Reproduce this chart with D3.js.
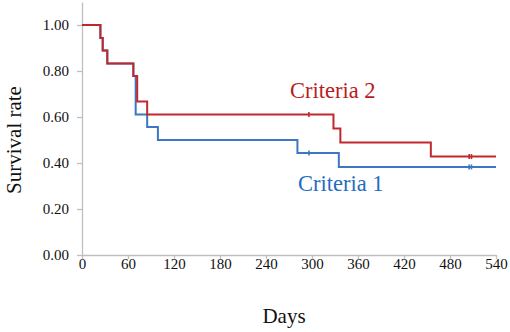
<!DOCTYPE html>
<html lang="en">
<head>
    <meta charset="UTF-8" />
    <title>Survival rate by criteria</title>
    <script src="https://d3js.org/d3.v7.min.js"></script>
    <style>
        body {
            margin: 0;
            background: #fff;
        }

        .axis path,
        .axis line {
            stroke: #bfbfbf;
            stroke-width: 1.3;
        }

        .curve {
            fill: none;
            stroke-width: 2;
        }
    </style>
</head>

<body>
    <div id="chart"></div>

    <script>
        // step times (days) and survival after each step
        var c1Days = [0, 24, 27, 33, 67, 70, 85, 99, 281, 335, 540];
        var c1Rate = [1.00, 0.944, 0.889, 0.833, 0.778, 0.611, 0.556, 0.500, 0.444, 0.383, 0.383];
        var c1Censor = [296, 505, 508];

        var c2Days = [0, 24, 27, 33, 67, 72, 85, 328, 337, 455, 540];
        var c2Rate = [1.00, 0.944, 0.889, 0.833, 0.778, 0.667, 0.611, 0.550, 0.489, 0.428, 0.428];
        var c2Censor = [296, 505, 508];

        var xTicks = [0, 60, 120, 180, 240, 300, 360, 420, 480, 540];
        var yTicks = [0, 0.2, 0.4, 0.6, 0.8, 1.0];

        var w = 510;
        var h = 332;
        var serif = "'Liberation Serif', 'Times New Roman', serif";

        var xScale = d3.scaleLinear().domain([0, 540]).range([82, 496]);
        var yScale = d3.scaleLinear().domain([0, 1.1]).range([255, 2]);

        var svg = d3.select("#chart")
            .append("svg")
            .attr("width", w)
            .attr("height", h);

        // axes
        var xAxis = svg.append("g")
            .attr("class", "axis")
            .attr("transform", "translate(0,255)")
            .call(d3.axisBottom(xScale).tickValues(xTicks).tickSize(4).tickSizeOuter(0).tickPadding(-1));

        var yAxis = svg.append("g")
            .attr("class", "axis")
            .attr("transform", "translate(82,0)")
            .call(d3.axisLeft(yScale).tickValues(yTicks).tickFormat(d3.format(".2f")).tickSize(5).tickSizeOuter(0).tickPadding(8));

        [xAxis, yAxis].forEach(function(a) {
            a.attr("font-family", serif).attr("font-size", 15);
            a.selectAll("text").style("font-family", serif).style("font-size", "15px").attr("fill", "#111");
        });

        var series = [
            { days: c1Days, rate: c1Rate, censor: c1Censor, color: "#3a78c4", text: "#1f6cc0", name: "Criteria 1", lx: 298, ly: 191 },
            { days: c2Days, rate: c2Rate, censor: c2Censor, color: "#c0282e", text: "#b81c22", name: "Criteria 2", lx: 290, ly: 98 }
        ];

        var line = d3.line()
            .x(function(d) { return xScale(d[0]); })
            .y(function(d) { return yScale(d[1]); })
            .curve(d3.curveStepAfter);

        // survival at a given day
        function rateAt(s, t) {
            var r = s.rate[0];
            for (var i = 0; i < s.days.length; i++) {
                if (s.days[i] <= t) r = s.rate[i];
            }
            return r;
        }

        series.forEach(function(s) {
            var pts = s.days.map(function(d, i) { return [d, s.rate[i]]; });

            svg.append("path")
                .datum(pts)
                .attr("class", "curve")
                .attr("stroke", s.color)
                .attr("d", line);

            // censor marks
            svg.selectAll(null)
                .data(s.censor)
                .enter()
                .append("line")
                .attr("x1", function(d) { return xScale(d); })
                .attr("x2", function(d) { return xScale(d); })
                .attr("y1", function(d) { return yScale(rateAt(s, d)) - 2.5; })
                .attr("y2", function(d) { return yScale(rateAt(s, d)) + 2.5; })
                .attr("stroke", s.color)
                .attr("stroke-width", 1.6);

            svg.append("text")
                .attr("x", s.lx)
                .attr("y", s.ly)
                .attr("fill", s.text)
                .style("font-family", serif)
                .style("font-size", "22.5px")
                .text(s.name);
        });

        // axis titles
        svg.append("text")
            .attr("x", 284)
            .attr("y", 323)
            .attr("text-anchor", "middle")
            .attr("fill", "#111")
            .style("font-family", serif)
            .style("font-size", "21px")
            .text("Days");

        svg.append("text")
            .attr("transform", "translate(21,140) rotate(-90)")
            .attr("text-anchor", "middle")
            .attr("fill", "#111")
            .style("font-family", serif)
            .style("font-size", "21px")
            .text("Survival rate");
    </script>
</body>
</html>
